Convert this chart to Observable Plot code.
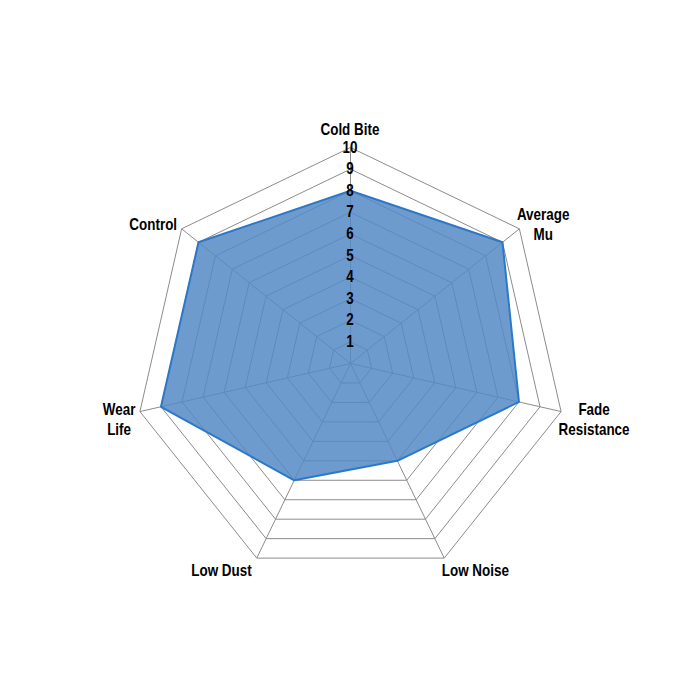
<!DOCTYPE html>
<html>
<head>
<meta charset="utf-8">
<script src="https://cdn.jsdelivr.net/npm/d3@7"></script>
<script src="https://cdn.jsdelivr.net/npm/@observablehq/plot@0.6"></script>
<style>
  html, body { margin: 0; padding: 0; background: #ffffff; }
  #chart { width: 700px; height: 700px; }
</style>
</head>
<body>
<div id="chart"></div>
<script>
// ---- data ----
const categories = ["Cold Bite", "Average Mu", "Fade Resistance", "Low Noise", "Low Dust", "Wear Life", "Control"];
const categoryLabels = ["Cold Bite", "Average\nMu", "Fade\nResistance", "Low Noise", "Low Dust", "Wear\nLife", "Control"];
const values = [8, 9, 8, 5, 6, 9, 9];
const ticks = [1, 2, 3, 4, 5, 6, 7, 8, 9, 10];

// ---- layout ----
const W = 700, H = 700;
const CX = 350, CY = 363;        // centre of the radar in px
const U = 21.6;                  // px per value unit
const K = 0.84;                  // horizontal condensing of the label font
const maxV = d3.max(ticks);
const n = categories.length;
const angle = i => (2 * Math.PI * i) / n; // clockwise from top

const px = (v, i) => v * Math.sin(angle(i));
const py = (v, i) => v * Math.cos(angle(i));

const ringData = ticks.flatMap(t =>
  d3.range(n + 1).map(k => ({level: t, x: px(t, k % n), y: py(t, k % n)}))
);
const spokeData = categories.map((c, i) => ({cat: c, x2: px(maxV, i), y2: py(maxV, i)}));
const polyData = d3.range(n + 1).map(k => ({x: px(values[k % n], k % n), y: py(values[k % n], k % n)}));
const tickData = ticks.map(t => ({t, label: String(t)}));
const labelData = categoryLabels.map((l, i) => ({label: l, i, x: px(maxV, i), y: py(maxV, i)}));

const FONT = '"Liberation Sans", Arial, Helvetica, sans-serif';

const chart = Plot.plot({
  width: W,
  height: H,
  margin: 0,
  x: {domain: [-CX / U, (W - CX) / U], axis: null},
  y: {domain: [(CY - H) / U, CY / U], axis: null},
  style: {fontFamily: FONT, background: "#ffffff", overflow: "visible"},
  marks: [
    Plot.line(ringData, {x: "x", y: "y", z: "level", stroke: "#8c8c8c", strokeWidth: 1, strokeLinejoin: "miter"}),
    Plot.link(spokeData, {x1: 0, y1: 0, x2: "x2", y2: "y2", stroke: "#8c8c8c", strokeWidth: 1}),
    Plot.line(polyData, {x: "x", y: "y", fill: "#5589c5", fillOpacity: 0.85, stroke: "#2c78c8", strokeWidth: 2, strokeLinejoin: "miter"}),
    Plot.text(tickData, {x: 0, y: "t", text: "label", textAnchor: "middle", fontSize: 16, fontWeight: "bold", fill: "#000000"}),
    Plot.text(labelData, {x: "x", y: "y", text: "label", textAnchor: "middle", lineHeight: 1.25, fontSize: 16, fontWeight: "bold", fill: "#000000"})
  ]
});

document.getElementById("chart").appendChild(chart);

// ---- post layout: condensed type and Excel-like label placement ----
const xs = chart.scale("x"), ys = chart.scale("y");
function placeCentered(el, tx, ty) {
  const b = el.getBBox();
  const bcx = b.x + b.width / 2, bcy = b.y + b.height / 2;
  const p = new DOMPoint(tx, ty)
    .matrixTransform(chart.getScreenCTM())
    .matrixTransform(el.parentNode.getScreenCTM().inverse());
  el.setAttribute("transform",
    `translate(${p.x.toFixed(2)},${p.y.toFixed(2)}) scale(${K},1) translate(${(-bcx).toFixed(2)},${(-bcy).toFixed(2)})`);
}

const groups = chart.querySelectorAll('g[aria-label="text"]');
const tickTexts = groups[0].querySelectorAll("text");
const labelTexts = groups[1].querySelectorAll("text");

tickTexts.forEach((el, k) => {
  placeCentered(el, xs.apply(0), ys.apply(tickData[k].t));
});

labelTexts.forEach((el, k) => {
  const d = labelData[k];
  const s = Math.sin(angle(d.i)), c = Math.cos(angle(d.i));
  const vx = xs.apply(d.x), vy = ys.apply(d.y);
  const b = el.getBBox();
  const w = b.width * K, h = b.height;
  let tx, ty;
  if (Math.abs(s) < 0.1) {
    tx = vx;
    ty = c > 0 ? vy - 18 : vy + 18;
  } else {
    tx = s > 0 ? vx - 2 + w / 2 : vx - 4 - w / 2;
    ty = vy + Math.min(5.5 - 15 * c, 12.5);
  }
  placeCentered(el, tx, ty);
});
</script>
</body>
</html>
